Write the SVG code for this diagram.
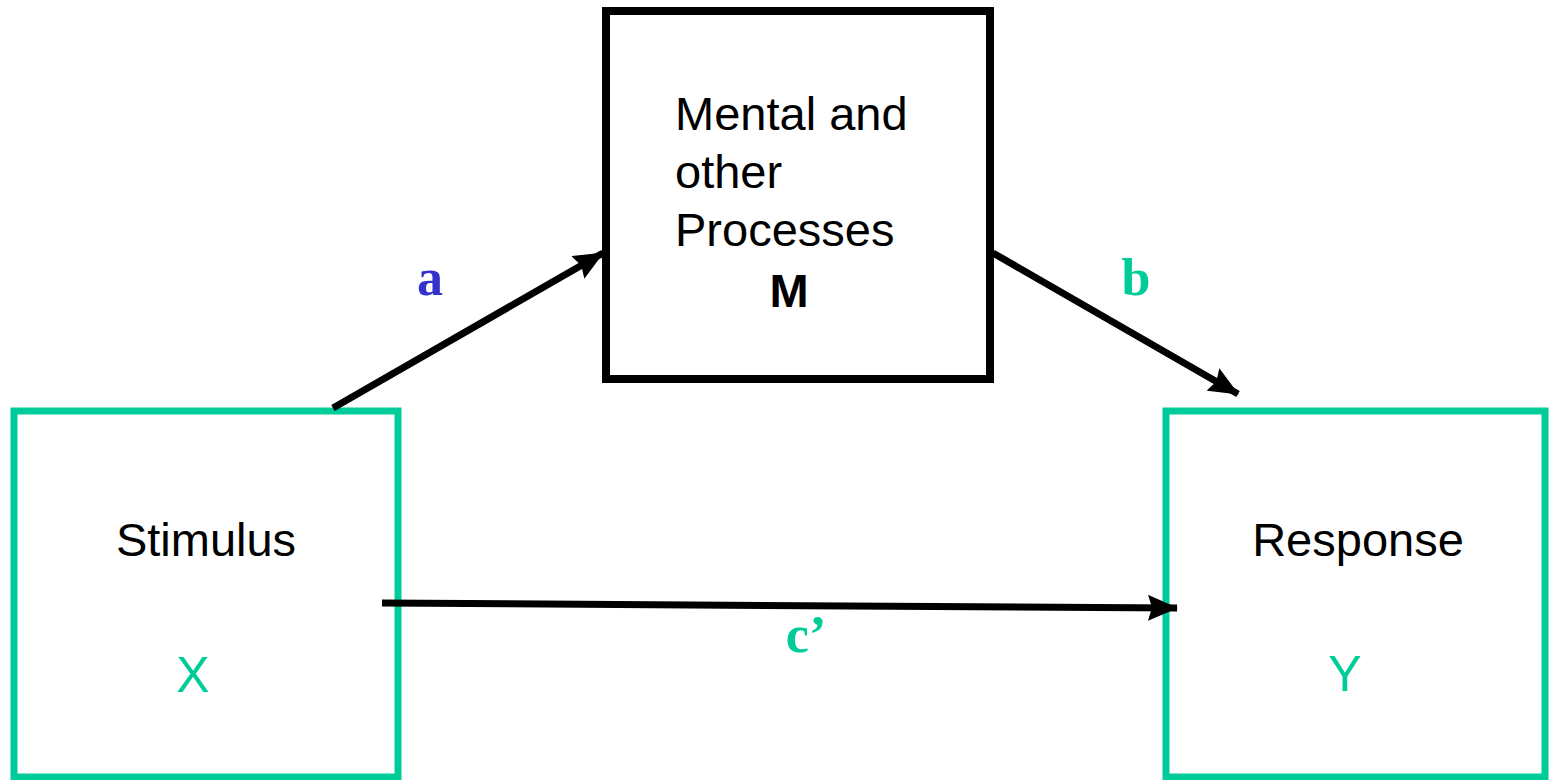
<svg xmlns="http://www.w3.org/2000/svg" width="1549" height="780" viewBox="0 0 1549 780">
<defs>
<style>
.box{fill:#fff;stroke-width:7}
.g{stroke:#00CC99}
.k{stroke:#000}
.t{font-family:"Liberation Sans",Arial,sans-serif;font-size:47px;fill:#000}
.v{font-family:"Liberation Sans",Arial,sans-serif;font-size:50px;fill:#00CC99}
.lbl{font-family:"Liberation Serif","Times New Roman",serif;font-weight:bold;font-size:52px}
.conn{stroke:#000;stroke-width:7;fill:none;marker-end:url(#ah)}
</style>
<marker id="ah" markerUnits="userSpaceOnUse" viewBox="0 0 30 26" refX="29" refY="13" markerWidth="30" markerHeight="26" orient="auto">
<path d="M0,0 L30,13 L0,26 L4,13 z" fill="#000"/>
</marker>
</defs>
<rect width="1549" height="780" fill="#fff"/>
<g id="node-M">
<rect class="box k" x="606" y="11" width="384" height="368" style="stroke-width:8"/>
<text class="t" x="675" y="130">Mental and</text>
<text class="t" x="675" y="188">other</text>
<text class="t" x="675" y="246">Processes</text>
<text class="t" x="789" y="307" text-anchor="middle" style="font-weight:bold;font-size:47px">M</text>
</g>
<g id="node-X">
<rect class="box g" x="14" y="411" width="384" height="366"/>
<text class="t" x="206" y="556" text-anchor="middle">Stimulus</text>
<text class="v" x="193" y="692" text-anchor="middle">X</text>
</g>
<g id="node-Y">
<rect class="box g" x="1166" y="411" width="379" height="366"/>
<text class="t" x="1358" y="556" text-anchor="middle">Response</text>
<text class="v" x="1345" y="691" text-anchor="middle">Y</text>
</g>
<g id="connectors">
<line class="conn" x1="333" y1="408" x2="603" y2="253"/>
<line class="conn" x1="993" y1="253" x2="1238" y2="394"/>
<line class="conn" x1="382" y1="603" x2="1177" y2="608"/>
<text class="lbl" x="430" y="295" text-anchor="middle" fill="#3333CC">a</text>
<text class="lbl" x="1136" y="295" text-anchor="middle" fill="#00CC99">b</text>
<text class="lbl" x="806" y="652" text-anchor="middle" fill="#00CC99">c’</text>
</g>
</svg>
